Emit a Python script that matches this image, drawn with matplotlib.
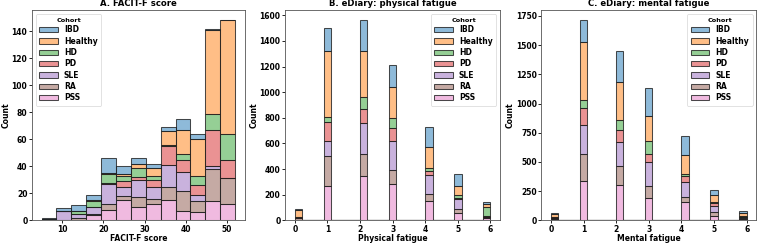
import numpy as np
import matplotlib
matplotlib.use("Agg")
import matplotlib.pyplot as plt
from matplotlib.colors import to_rgba
from matplotlib.patches import Patch

cohorts = ["IBD", "Healthy", "HD", "PD", "SLE", "RA", "PSS"]
colors = ["#1f77b4", "#ff7f0e", "#2ca02c", "#d62728", "#9467bd", "#8c564b", "#e377c2"]

# Panel A: FACIT-F score, counts per bin (13 bins from 5 to 52)
facit_edges = np.linspace(5, 52, 14)
facit_counts = {
    "IBD":     [1, 2, 4, 4, 11, 6, 4, 3, 3, 8, 4, 1, 0],
    "Healthy": [0, 0, 0, 1, 1, 1, 3, 6, 10, 18, 27, 62, 84],
    "HD":      [0, 0, 2, 4, 6, 4, 7, 3, 1, 4, 7, 12, 19],
    "PD":      [0, 0, 0, 0, 1, 4, 2, 5, 14, 9, 7, 27, 14],
    "SLE":     [1, 7, 3, 5, 15, 7, 13, 9, 16, 14, 5, 2, 0],
    "RA":      [0, 0, 2, 1, 4, 3, 7, 4, 10, 15, 8, 24, 19],
    "PSS":     [0, 0, 0, 4, 8, 15, 10, 12, 15, 7, 6, 14, 12],
}

# Panels B/C: eDiary scores 0..6
scores = [0, 1, 2, 3, 4, 5, 6]
diary_edges = np.linspace(0, 6, 28)
physical_counts = {
    "IBD":     [10, 176, 237, 176, 160, 92, 14],
    "Healthy": [50, 514, 362, 237, 161, 69, 28],
    "HD":      [2, 39, 89, 76, 28, 25, 68],
    "PD":      [10, 147, 114, 107, 30, 13, 5],
    "SLE":     [2, 120, 237, 222, 148, 71, 0],
    "RA":      [10, 232, 171, 115, 51, 38, 8],
    "PSS":     [5, 270, 349, 280, 153, 54, 20],
}
mental_counts = {
    "IBD":     [5, 180, 267, 236, 163, 42, 11],
    "Healthy": [25, 500, 328, 213, 163, 65, 31],
    "HD":      [2, 70, 85, 113, 20, 8, 2],
    "PD":      [8, 146, 98, 70, 50, 20, 4],
    "SLE":     [2, 245, 211, 202, 127, 56, 10],
    "RA":      [10, 233, 160, 107, 48, 33, 8],
    "PSS":     [8, 337, 303, 188, 154, 37, 10],
}

FS = 5.5
plt.rcParams["font.family"] = ["DejaVu Sans"]
plt.rcParams["font.weight"] = "bold"
plt.rcParams["axes.labelweight"] = "bold"
plt.rcParams["axes.titleweight"] = "bold"
plt.rcParams["axes.linewidth"] = 0.6
plt.rcParams["xtick.major.width"] = 0.6
plt.rcParams["ytick.major.width"] = 0.6
plt.rcParams["xtick.major.size"] = 2.0
plt.rcParams["ytick.major.size"] = 2.0

fig = plt.figure(figsize=(7.58, 2.44), dpi=100)
bottom, top = 0.097, 0.957
axA = fig.add_axes([0.042, bottom, 0.281, top - bottom])
axB = fig.add_axes([0.376, bottom, 0.284, top - bottom])
axC = fig.add_axes([0.714, bottom, 0.284, top - bottom])

edge = (0.12, 0.12, 0.12, 0.8)


def stacked(ax, xs, edges, counts):
    order = cohorts[::-1]  # PSS at bottom
    data = [xs for _ in order]
    weights = [counts[c] for c in order]
    cols = [to_rgba(colors[cohorts.index(c)], 0.5) for c in order]
    ax.hist(data, bins=edges, weights=weights, stacked=True,
            color=cols, edgecolor=edge, linewidth=0.75, histtype="bar",
            rwidth=1.0)


def legend(ax, loc):
    handles = [Patch(facecolor=to_rgba(c, 0.5), edgecolor=edge, linewidth=0.75)
               for c in colors]
    leg = ax.legend(handles, cohorts, title="Cohort", loc=loc,
                    prop={"size": FS, "weight": "bold"},
                    title_fontproperties={"size": FS * 0.85, "weight": "bold"},
                    handlelength=2.4, handleheight=0.7, labelspacing=0.3,
                    borderpad=0.5, framealpha=0.8, fancybox=True)
    leg.get_frame().set_linewidth(0.5)


centers = (facit_edges[:-1] + facit_edges[1:]) / 2
stacked(axA, centers, facit_edges, facit_counts)
axA.set_title("A. FACIT-F score", fontsize=FS + 0.6, pad=3)
axA.set_xlabel("FACIT-F score", fontsize=FS, labelpad=0.5)
axA.set_ylabel("Count", fontsize=FS, labelpad=1)
axA.set_yticks(np.arange(0, 141, 20))
axA.set_xticks([10, 20, 30, 40, 50])
legend(axA, "upper left")

diary_x = np.minimum(np.array(scores, dtype=float) + 1e-6, 6.0)

stacked(axB, diary_x, diary_edges, physical_counts)
axB.set_title("B. eDiary: physical fatigue", fontsize=FS + 0.6, pad=3)
axB.set_xlabel("Physical fatigue", fontsize=FS, labelpad=0.5)
axB.set_ylabel("Count", fontsize=FS, labelpad=1)
axB.set_yticks(np.arange(0, 1601, 200))
axB.set_xticks(scores)
legend(axB, "upper right")

stacked(axC, diary_x, diary_edges, mental_counts)
axC.set_title("C. eDiary: mental fatigue", fontsize=FS + 0.6, pad=3)
axC.set_xlabel("Mental fatigue", fontsize=FS, labelpad=0.5)
axC.set_ylabel("Count", fontsize=FS, labelpad=1)
axC.set_yticks(np.arange(0, 1751, 250))
axC.set_xticks(scores)
legend(axC, "upper right")

for ax in (axA, axB, axC):
    ax.tick_params(labelsize=FS, pad=1.2)
    for lab in ax.get_xticklabels() + ax.get_yticklabels():
        lab.set_fontweight("bold")
    for s in ax.spines.values():
        s.set_color("#555555")

fig.savefig("out.png", dpi=100)
